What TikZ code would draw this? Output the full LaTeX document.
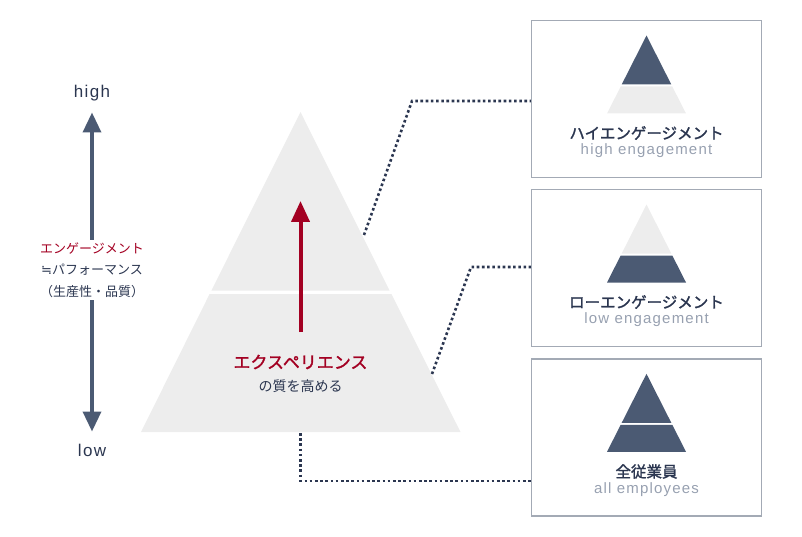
\documentclass[tikz,border=0pt]{standalone}
\usepackage{fontspec}
\setmainfont{Liberation Sans}
\newfontfamily\jp{Noto Sans CJK JP}
\newfontfamily\jpm{Noto Sans CJK JP}[FakeBold=1.6]
\newfontfamily\sym{DejaVu Sans}
\newfontfamily\enls{Liberation Sans}[LetterSpace=8]
\newfontfamily\enlsb{Liberation Sans}[LetterSpace=8]
\usetikzlibrary{arrows.meta}
\definecolor{slate}{HTML}{4B5A73}
\definecolor{navy}{HTML}{2B3650}
\definecolor{wine}{HTML}{A30022}
\definecolor{pyr}{HTML}{EDEDED}
\definecolor{boxline}{HTML}{A3AAB5}
\definecolor{subgray}{HTML}{97A0B0}
\tikzset{
  box/.style={draw=boxline, line width=1.5pt, minimum width=230pt, minimum height=157pt, inner sep=0pt},
  jptitle/.style={font=\jpm\fontsize{15.5}{18}\selectfont, text=navy, inner sep=0pt},
  ensub/.style={font=\enls\fontsize{15}{17}\selectfont, text=subgray, inner sep=0pt},
  axislbl/.style={font=\enlsb\fontsize{17}{20}\selectfont, text=navy, inner sep=0pt},
  dotline/.style={draw=navy, line width=2.6pt, dash pattern=on 2.6pt off 2.6pt},
  axisarrow/.style={draw=slate, line width=3.5pt, -{Triangle[length=20pt,width=18pt]}},
  pics/minipyr/.style 2 args={code={
    \fill[#1] (0,15) -- (24.8,64) -- (-24.8,64) -- cycle;
    \fill[#2] (-25.8,66) -- (25.8,66) -- (39.5,93) -- (-39.5,93) -- cycle;
  }}
}
\begin{document}
\begin{tikzpicture}[x=1pt,y=-1pt]
\useasboundingbox (0,0) rectangle (802,537);

% big pyramid
\fill[pyr] (300.5,112) -- (389.7,290.7) -- (211.3,290.7) -- cycle;
\fill[pyr] (209.6,294) -- (391.4,294) -- (460.5,432) -- (141,432) -- cycle;

% red arrow
\coordinate (rbot) at (300.5,332);
\coordinate (rtop) at (300.5,201);
\draw[wine, line width=4pt, -{Triangle[length=21pt,width=18pt]}] (rbot) -- (rtop);

\node[font=\jpm\fontsize{17}{20}\selectfont, text=wine, inner sep=0pt] (exp) at (300.5,362) {エクスペリエンス};
\node[font=\jp\fontsize{14}{16}\selectfont, text=navy, inner sep=0pt] (expsub) at (300.5,386.5) {の質を高める};

% left axis
\node[axislbl] (high) at (92,93) {high};
\node[axislbl] (low) at (92,450) {low};
\coordinate (htip) at (92,112.5);
\coordinate (ltip) at (92,431.5);
\node[font=\jp\fontsize{13}{21.5}\selectfont, align=center, inner xsep=0pt, inner ysep=0pt, minimum height=60pt] (mid) at (92,270)
  {\textcolor{wine}{エンゲージメント}\\\textcolor{navy}{{\sym ≒}パフォーマンス}\\\textcolor{navy}{（生産性・品質）}};
\draw[axisarrow] (mid.north) -- (htip);
\draw[axisarrow] (mid.south) -- (ltip);

% boxes
\node[box] (b1) at (646.5,99) {};
\node[box] (b2) at (646.5,268) {};
\node[box] (b3) at (646.5,437.3) {};

\pic at (646.5,20.5) {minipyr={slate}{pyr}};
\pic at (646.5,189.5) {minipyr={pyr}{slate}};
\pic at (646.5,358.8) {minipyr={slate}{slate}};

\node[jptitle] (t1) at (646.5,133) {ハイエンゲージメント};
\node[ensub] (s1) at (646.5,150.5) {high engagement};
\node[jptitle] (t2) at (646.5,302) {ローエンゲージメント};
\node[ensub] (s2) at (646.5,320) {low engagement};
\node[jptitle] (t3) at (646.5,471.5) {全従業員};
\node[ensub] (s3) at (646.5,490) {all employees};

% dotted connectors
\coordinate (c1a) at (364,235);
\coordinate (c1b) at (412,101);
\coordinate (c2a) at (432,374);
\coordinate (c2b) at (471,267);
\coordinate (c3a) at (300.5,433);
\coordinate (c3b) at (300.5,481);
\draw[dotline] (c1a) -- (c1b) -- (c1b -| b1.west);
\draw[dotline] (c2a) -- (c2b) -- (c2b -| b2.west);
\draw[dotline] (c3a) -- (c3b) -- (c3b -| b3.west);
\end{tikzpicture}
\end{document}
